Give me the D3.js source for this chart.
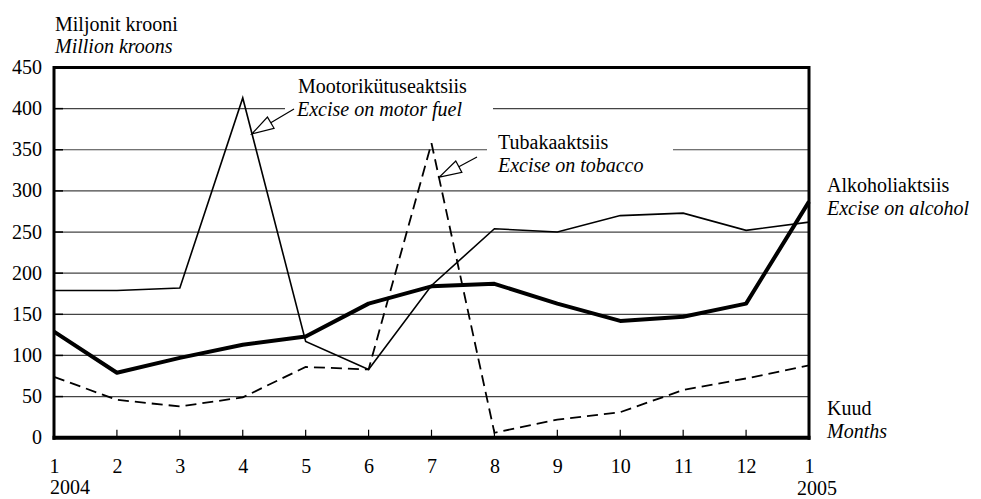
<!DOCTYPE html>
<html>
<head>
<meta charset="utf-8">
<script src="https://cdn.jsdelivr.net/npm/d3@7"></script>
<style>
  html, body { margin: 0; padding: 0; background: #fff; }
  svg { display: block; }
  text { font-family: "Liberation Serif", "Times New Roman", serif; font-size: 20px; fill: #000; }
</style>
</head>
<body>
<svg id="chart" width="981" height="499"></svg>
<script>
// ---- data ----
const months = ["1","2","3","4","5","6","7","8","9","10","11","12","1"];
const motorFuel = [179, 179, 182, 413, 117, 83, 185, 254, 250, 270, 273, 252, 262];
const alcohol   = [129, 79, 97, 113, 123, 163, 184, 187, 163, 142, 147, 163, 287];
const tobacco   = [74, 46, 38, 49, 86, 83, 358, 6, 22, 31, 58, 72, 88];
const yTicks = [0, 50, 100, 150, 200, 250, 300, 350, 400, 450];
const years = ["2004", "2005"];

// ---- layout ----
const svg = d3.select("#chart");
const L = 54, R = 809, T = 67.5, B = 437.7;
const x = d3.scalePoint().domain(d3.range(months.length)).range([L, R]);
const y = d3.scaleLinear().domain([0, 450]).range([B, T]);

svg.append("rect").attr("width", 981).attr("height", 499).attr("fill", "#fff");

// gridlines
svg.append("g").selectAll("line").data(yTicks.filter(d => d > 0 && d < 450)).join("line")
  .attr("x1", L).attr("x2", R)
  .attr("y1", d => y(d)).attr("y2", d => y(d))
  .attr("stroke", "#444").attr("stroke-width", 1.2);

// y axis labels
const yAxis = d3.axisLeft(y).tickValues(yTicks).tickSize(0).tickPadding(12);
const gy = svg.append("g").attr("transform", `translate(${L},0)`).call(yAxis);
gy.select(".domain").remove();
gy.selectAll("text").attr("dy", "0.3em").attr("x", -12);
// inner y ticks
svg.append("g").selectAll("line").data(yTicks.filter(d => d > 0 && d < 450)).join("line")
  .attr("x1", L).attr("x2", L + 9)
  .attr("y1", d => y(d)).attr("y2", d => y(d))
  .attr("stroke", "#000").attr("stroke-width", 1.5);

// x axis labels + inner ticks
const xAxis = d3.axisBottom(x).tickFormat(i => months[i]).tickSize(0).tickPadding(21);
const gx = svg.append("g").attr("transform", `translate(0,${B})`).call(xAxis);
gx.select(".domain").remove();
svg.append("g").selectAll("line").data(d3.range(1, months.length - 1)).join("line")
  .attr("x1", i => x(i)).attr("x2", i => x(i))
  .attr("y1", B).attr("y2", B - 8)
  .attr("stroke", "#000").attr("stroke-width", 1.2);

// year labels
svg.append("text").attr("x", x(0) - 4).attr("y", 494).text(years[0]);
svg.append("text").attr("x", x(months.length - 1) - 12).attr("y", 495).text(years[1]);

// ---- annotation label backgrounds (break gridlines) ----
svg.append("rect").attr("x", 285).attr("y", 76).attr("width", 208).attr("height", 45).attr("fill", "#fff");
svg.append("rect").attr("x", 487).attr("y", 131).attr("width", 186).attr("height", 47).attr("fill", "#fff");

// ---- lines ----
const line = data => d3.line().x((d, i) => x(i)).y(d => y(d))(data);
svg.append("path").attr("d", line(tobacco)).attr("fill", "none")
  .attr("stroke", "#000").attr("stroke-width", 1.8).attr("stroke-dasharray", "11,6");
svg.append("path").attr("d", line(motorFuel)).attr("fill", "none")
  .attr("stroke", "#000").attr("stroke-width", 1.6).attr("stroke-linejoin", "miter");
svg.append("path").attr("d", line(alcohol)).attr("fill", "none")
  .attr("stroke", "#000").attr("stroke-width", 4).attr("stroke-linejoin", "round");

// ---- frame ----
svg.append("line").attr("x1", L).attr("x2", R).attr("y1", T).attr("y2", T).attr("stroke", "#000").attr("stroke-width", 3);
svg.append("line").attr("x1", L).attr("x2", L).attr("y1", T - 1.5).attr("y2", B + 2).attr("stroke", "#000").attr("stroke-width", 3);
svg.append("line").attr("x1", R).attr("x2", R).attr("y1", T - 1.5).attr("y2", B + 2).attr("stroke", "#000").attr("stroke-width", 3);
svg.append("line").attr("x1", L - 1.5).attr("x2", R + 1.5).attr("y1", B).attr("y2", B).attr("stroke", "#000").attr("stroke-width", 4);

// ---- arrows ----
function arrow(x0, y0, tx, ty) {
  const dx = x0 - tx, dy = y0 - ty, len = Math.hypot(dx, dy);
  const ux = dx / len, uy = dy / len;
  const hl = 22, hw = 6.5;
  const bx = tx + ux * hl, by = ty + uy * hl;
  svg.append("line").attr("x1", x0).attr("y1", y0).attr("x2", bx).attr("y2", by)
    .attr("stroke", "#000").attr("stroke-width", 1.2);
  const pts = [[tx, ty], [bx - uy * hw, by + ux * hw], [bx + uy * hw, by - ux * hw]];
  svg.append("polygon").attr("points", pts.map(p => p.join(",")).join(" "))
    .attr("fill", "#fff").attr("stroke", "#000").attr("stroke-width", 1.2);
}
const seg = (arr, i, t) => [x(i) + (x(i + 1) - x(i)) * t, y(arr[i] + (arr[i + 1] - arr[i]) * t)];
const mTip = seg(motorFuel, 3, 0.16);
arrow(294, 109, mTip[0] - 1, mTip[1] - 3);
const tTip = seg(tobacco, 6, 0.11);
arrow(477, 157, tTip[0] + 1, tTip[1] + 2);

// ---- texts ----
const txt = (s, x0, y0, italic) => svg.append("text").attr("x", x0).attr("y", y0)
  .attr("font-style", italic ? "italic" : "normal").text(s);
txt("Miljonit krooni", 55, 31, false);
txt("Million kroons", 55, 53, true);
txt("Mootorikütuseaktsiis", 298, 93, false);
txt("Excise on motor fuel", 297, 116, true);
txt("Tubakaaktsiis", 498, 149, false);
txt("Excise on tobacco", 498, 172, true);
txt("Alkoholiaktsiis", 827, 192, false);
txt("Excise on alcohol", 827, 215, true);
txt("Kuud", 827, 415, false);
txt("Months", 827, 438, true);
</script>
</body>
</html>
